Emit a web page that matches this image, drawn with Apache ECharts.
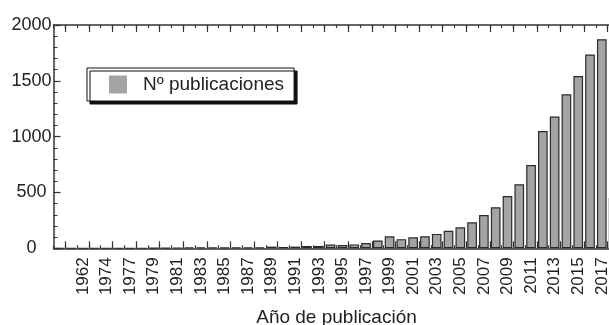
<!DOCTYPE html>
<html>
<head>
<meta charset="utf-8">
<script src="https://cdn.jsdelivr.net/npm/echarts@6/dist/echarts.min.js"></script>
<style>
  html, body { margin: 0; padding: 0; background: #fff; }
  #chart { width: 609px; height: 325px; }
</style>
</head>
<body>
<div id="chart"></div>
<script>
// Publication years (first slot carries no printed label)
const years = ['1958', '1960', '1962', '1973', '1974', '1976', '1977', '1978', '1979',
  '1980', '1981', '1982', '1983', '1984', '1985', '1986', '1987', '1988', '1989',
  '1990', '1991', '1992', '1993', '1994', '1995', '1996', '1997', '1998', '1999',
  '2000', '2001', '2002', '2003', '2004', '2005', '2006', '2007', '2008', '2009',
  '2010', '2011', '2012', '2013', '2014', '2015', '2016', '2017', '2018'];

// Number of publications per year
const publications = [1, 1, 1, 1, 1, 1, 1, 1, 2,
  2, 5, 8, 9, 9, 6, 6, 7, 9, 15,
  12, 15, 21, 21, 33, 30, 35, 48, 70, 107,
  82, 98, 107, 129, 157, 188, 233, 298, 367, 468,
  573, 746, 1050, 1180, 1379, 1543, 1736, 1873, 450];

const yTicks = [0, 500, 1000, 1500, 2000];

const FONT = '"Liberation Sans", Arial, sans-serif';
const INK = '#222';
const AXIS = '#333';

const chart = echarts.init(document.getElementById('chart'), null, { renderer: 'canvas' });

// Extra category axes used for the top frame line and the longer alternate ticks
const tickAxis = (position, longTicks) => ({
  type: 'category',
  data: years,
  position: position,
  boundaryGap: true,
  axisLine: { show: !longTicks, lineStyle: { color: AXIS, width: 1.5 } },
  axisTick: {
    show: true,
    inside: true,
    length: longTicks ? 7 : 3,
    interval: longTicks ? (i) => i % 2 === 1 : 0,
    lineStyle: { color: AXIS, width: 1.2 }
  },
  axisLabel: { show: false },
  splitLine: { show: false }
});

chart.setOption({
  animation: false,
  backgroundColor: '#fff',
  // plot area runs past the right edge of the canvas
  grid: { left: 53.5, top: 25, width: 566, height: 223.3, containLabel: false, outerBoundsMode: 'none' },
  legend: {
    show: true,
    left: 87,
    top: 68,
    orient: 'horizontal',
    padding: [7, 10, 7, 22],
    itemWidth: 18,
    itemHeight: 18,
    backgroundColor: '#fff',
    borderColor: '#111',
    borderWidth: 1,
    shadowColor: '#111',
    shadowBlur: 0,
    shadowOffsetX: 3,
    shadowOffsetY: 3,
    icon: 'rect',
    itemStyle: { color: '#a4a4a4', borderWidth: 0 },
    textStyle: { fontFamily: FONT, fontSize: 19, color: INK, padding: [0, 0, 0, 11] },
    data: ['Nº publicaciones']
  },
  xAxis: [
    {
      type: 'category',
      data: years,
      position: 'bottom',
      boundaryGap: true,
      name: 'Año de publicación',
      nameLocation: 'middle',
      nameGap: 60,
      nameTextStyle: { fontFamily: FONT, fontSize: 19, color: INK },
      axisLine: { show: true, lineStyle: { color: AXIS, width: 1.5 } },
      axisTick: { show: true, inside: true, length: 3, interval: 0, lineStyle: { color: AXIS, width: 1.2 } },
      axisLabel: {
        show: true,
        rotate: 90,
        margin: 9,
        interval: (i) => i % 2 === 0 && i > 0,
        fontFamily: FONT,
        fontSize: 17,
        color: INK
      },
      splitLine: { show: false }
    },
    tickAxis('bottom', true),
    tickAxis('top', false),
    tickAxis('top', true)
  ],
  yAxis: {
    type: 'value',
    min: 0,
    max: 2000,
    interval: 500,
    axisLine: { show: true, lineStyle: { color: AXIS, width: 1.5 } },
    axisTick: { show: true, inside: true, length: 7, lineStyle: { color: AXIS, width: 1.2 } },
    minorTick: { show: true, splitNumber: 5, length: 4, lineStyle: { color: AXIS, width: 1 } },
    axisLabel: {
      show: true,
      align: 'center',
      margin: 22,
      padding: [0, 0, 6, 0],
      fontFamily: FONT,
      fontSize: 18,
      color: INK,
      formatter: (v) => (yTicks.includes(v) ? String(v) : '')
    },
    splitLine: { show: false }
  },
  series: [{
    name: 'Nº publicaciones',
    type: 'bar',
    xAxisIndex: 0,
    data: publications,
    barCategoryGap: '18%',
    itemStyle: { color: '#a4a4a4', borderColor: '#2a2a2a', borderWidth: 1.2 }
  }]
});
</script>
</body>
</html>
